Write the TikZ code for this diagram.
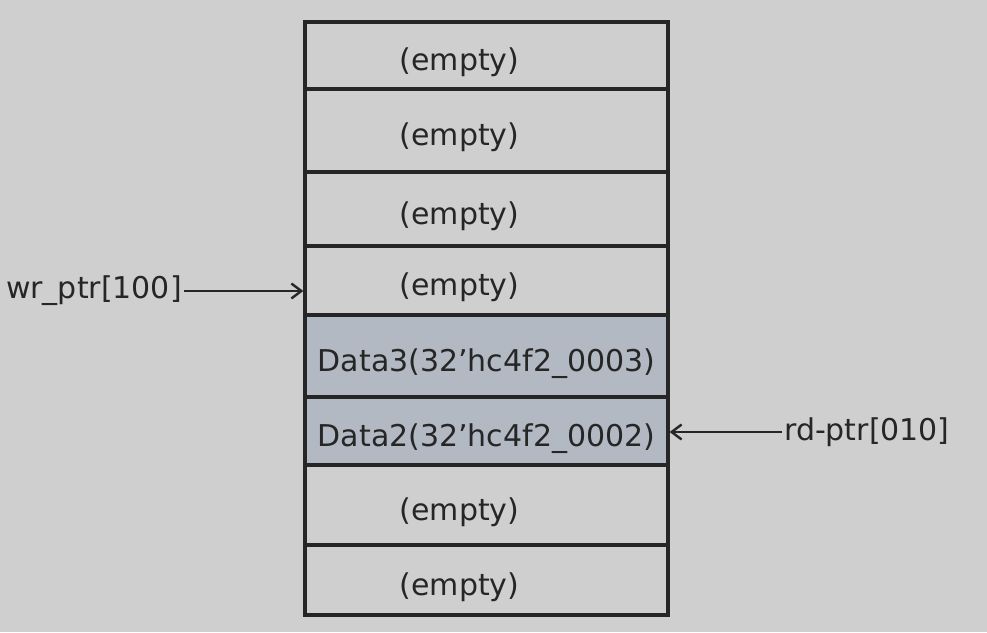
\documentclass[tikz,border=0pt]{standalone}
\usepackage{fontspec}
\setmainfont{DejaVu Sans}
\usetikzlibrary{arrows.meta}
\definecolor{bg}{HTML}{CFCFCF}
\definecolor{ink}{HTML}{262626}
\definecolor{shade}{HTML}{B2B9C3}
\newcommand{\emptytxt}{\hspace*{-54pt}(empty)}
\begin{document}
\begin{tikzpicture}[x=1pt,y=-1pt,
  cell/.style={draw=ink, line width=3.2pt, minimum width=363pt, inner sep=0pt,
    font=\fontsize{30}{34}\selectfont, text=ink, anchor=center,
    text height=30pt, text depth=0pt},
  datacell/.style={cell, fill=shade},
  ptrlabel/.style={font=\fontsize{30}{34}\selectfont, text=ink, inner sep=2pt},
  ptrarrow/.style={draw=ink, line width=2.4pt, -{Straight Barb[length=10pt,width=15pt,line width=2.4pt]}}]
\fill[bg] (0,0) rectangle (987,632);
\useasboundingbox (0,0) rectangle (987,632);
\node[cell, minimum height=67pt] (c1) at (486.5,55.5) {\emptytxt};
\node[cell, minimum height=83pt] (c2) at (486.5,130.5) {\emptytxt};
\node[cell, minimum height=74pt] (c3) at (486.5,209) {\emptytxt};
\node[cell, minimum height=69pt] (c4) at (486.5,280.5) {\emptytxt};
\node[datacell, minimum height=82pt] (c5) at (486.5,356) {Data3(32'hc4f2\_0003)};
\node[datacell, minimum height=68pt] (c6) at (486.5,431) {Data2(32'hc4f2\_0002)};
\node[cell, minimum height=80pt] (c7) at (486.5,505) {\emptytxt};
\node[cell, minimum height=70pt] (c8) at (486.5,580) {\emptytxt};
\node[ptrlabel, anchor=east] (wr) at (184,291) {wr\_ptr[100]};
\node[ptrlabel, anchor=west] (rd) at (782,432) {rd-ptr[010]};
\draw[ptrarrow] (wr.east) -- (wr.east -| c4.west);
\draw[ptrarrow] (rd.west) -- (rd.west -| c6.east);
\end{tikzpicture}
\end{document}
